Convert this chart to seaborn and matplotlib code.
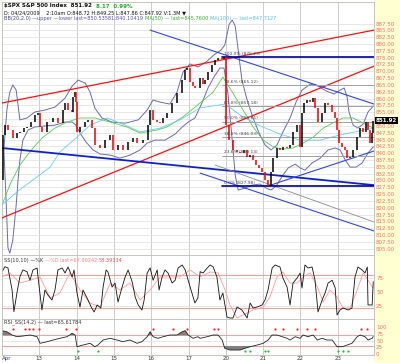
import matplotlib
matplotlib.use("Agg")
import numpy as np
import pandas as pd
import matplotlib.pyplot as plt
from matplotlib.patches import Rectangle
import matplotlib.transforms as mtransforms
import seaborn as sns

sns.set_theme(style="white")
plt.rcParams["font.family"] = ["DejaVu Sans"]

# =====================================================
# Data (x = trading day index, 0 = Apr 9)
# =====================================================

day_labels = ["Apr", "13", "14", "15", "16", "17", "20", "21", "22", "23"]

bar_day = [0.00, 0.03, 0.08, 0.16, 0.29, 0.40, 0.48, 0.59, 0.67, 0.78,
           0.88, 0.97, 1.02, 1.07, 1.21, 1.37, 1.50, 1.64, 1.69, 1.77,
           1.88, 1.90, 1.96, 1.98, 2.01, 2.09, 2.23, 2.31, 2.41, 2.49,
           2.63, 2.76, 2.90, 2.98, 3.11, 3.24, 3.38, 3.51, 3.62, 3.78,
           3.91, 3.97, 4.05, 4.16, 4.24, 4.32, 4.42, 4.56, 4.69, 4.83,
           4.91, 4.96, 5.04, 5.12, 5.17, 5.31, 5.39, 5.44, 5.52, 5.63,
           5.71, 5.79, 5.90, 5.95, 6.01, 6.09, 6.19, 6.30, 6.38, 6.49,
           6.57, 6.65, 6.73, 6.81, 6.89, 6.97, 7.05, 7.13, 7.21, 7.27,
           7.37, 7.45, 7.53, 7.64, 7.72, 7.80, 7.91, 7.99, 8.04, 8.10,
           8.18, 8.26, 8.34, 8.39, 8.47, 8.58, 8.66, 8.74, 8.85, 8.93,
           8.98, 9.03, 9.12, 9.20, 9.25, 9.33, 9.41, 9.52, 9.60, 9.68,
           9.76, 9.81, 9.87, 9.92, 9.95]
bar_close = [830.2, 846.7, 850.3, 848.5, 845.6, 847.4, 847.8, 849.2, 849.6, 851.4,
             854.0, 854.7, 849.6, 847.8, 851.4, 852.9, 851.1, 855.8, 858.4, 855.8,
             855.1, 860.6, 862.4, 858.8, 847.8, 849.6, 851.4, 852.2, 849.2, 843.0,
             841.9, 844.8, 846.7, 841.2, 843.0, 841.2, 844.1, 845.6, 843.7, 844.8,
             850.3, 855.8, 852.2, 851.4, 851.1, 852.9, 854.7, 858.4, 862.0, 866.8,
             870.5, 871.2, 866.1, 864.6, 863.9, 867.5, 865.3, 866.8, 869.7, 872.3,
             874.1, 874.9, 874.5, 875.2, 850.3, 844.8, 841.2, 840.4, 840.1, 841.2,
             838.6, 839.3, 837.5, 835.7, 834.6, 833.1, 830.2, 828.0, 833.1, 838.2,
             841.9, 841.2, 842.3, 841.9, 843.0, 847.8, 850.3, 842.3, 854.7, 858.4,
             859.5, 858.8, 860.2, 856.6, 851.4, 854.7, 858.4, 857.7, 855.1, 852.9,
             848.5, 843.7, 842.3, 841.2, 838.2, 838.6, 841.2, 846.1, 849.2, 847.8,
             851.4, 848.5, 843.7, 847.4, 851.92]

bb_up_day = [0.05, 0.13, 0.21, 0.29, 0.38, 0.43, 0.48, 0.67, 0.88, 1.15,
             1.42, 1.69, 1.88, 2.04, 2.23, 2.36, 2.49, 2.68, 2.95, 3.30,
             3.65, 3.89, 4.05, 4.24, 4.50, 4.69, 4.85, 5.04, 5.25, 5.47,
             5.68, 5.87, 5.97, 6.09, 6.17, 6.25, 6.33, 6.43, 6.57, 6.73,
             6.89, 7.05, 7.21, 7.37, 7.53, 7.72, 7.88, 8.04, 8.26, 8.47,
             8.69, 8.90, 9.06, 9.17, 9.25, 9.30, 9.41, 9.54, 9.68, 9.81, 9.95]
bb_up = [841.2, 855.8, 862.4, 865.0, 863.1, 857.6, 852.2, 852.9, 855.1, 855.8,
         856.9, 860.2, 864.6, 866.8, 865.7, 862.4, 856.5, 852.9, 851.4, 851.0,
         852.2, 855.8, 859.5, 858.7, 858.0, 862.4, 869.7, 872.7, 871.6, 873.4,
         876.0, 877.8, 879.6, 887.3, 888.8, 886.6, 877.8, 866.8, 859.5, 852.9,
         847.4, 843.0, 841.2, 843.0, 847.8, 852.9, 858.7, 863.1, 865.3, 864.6,
         862.8, 861.7, 863.1, 863.9, 860.6, 855.1, 850.3, 849.2, 850.7, 855.1, 857.3]

bb_lo_day = [0.05, 0.11, 0.16, 0.21, 0.29, 0.38, 0.43, 0.48, 0.56, 0.70,
             0.88, 1.15, 1.42, 1.69, 1.88, 1.98, 2.09, 2.25, 2.44, 2.63,
             2.90, 3.16, 3.43, 3.70, 3.89, 4.10, 4.37, 4.64, 4.83, 4.99,
             5.17, 5.36, 5.52, 5.68, 5.84, 5.95, 6.06, 6.17, 6.25, 6.33,
             6.51, 6.70, 6.92, 7.08, 7.21, 7.35, 7.51, 7.67, 7.86, 7.99,
             8.12, 8.31, 8.53, 8.74, 8.93, 9.06, 9.20, 9.33, 9.49, 9.65, 9.81, 9.95]
bb_lo = [841.2, 822.8, 805.3, 803.4, 808.2, 821.0, 830.2, 837.5, 844.8, 848.5,
         849.6, 850.0, 850.3, 851.4, 851.4, 850.3, 847.4, 844.1, 841.2, 839.7,
         839.3, 838.2, 839.3, 841.2, 843.7, 844.8, 844.8, 847.0, 849.6, 851.4,
         852.9, 858.4, 863.9, 867.9, 871.2, 871.2, 861.3, 844.8, 832.0, 826.5,
         827.2, 828.3, 828.7, 827.2, 826.5, 828.0, 831.6, 834.6, 836.0, 834.6,
         833.8, 836.4, 838.2, 841.2, 841.9, 841.2, 837.5, 834.9, 834.9, 836.4, 840.1, 842.3]

ma50_day = [0.00, 0.21, 0.48, 0.83, 1.10, 1.42, 1.74, 2.09, 2.49, 2.90,
            3.35, 3.70, 4.16, 4.42, 4.85, 5.31, 5.66, 5.92, 6.19, 6.46,
            6.73, 7.00, 7.27, 7.53, 7.80, 8.07, 8.34, 8.61, 8.87, 9.14,
            9.41, 9.73, 9.95]
ma50 = [821.0, 828.4, 835.7, 841.9, 845.9, 849.2, 851.4, 852.9, 852.9, 851.4,
        849.6, 847.4, 848.5, 849.6, 853.3, 858.4, 862.4, 867.9, 862.0, 855.8,
        849.6, 844.8, 842.3, 841.5, 841.9, 843.7, 845.9, 849.2, 851.1, 852.9,
        852.9, 850.7, 849.2]

ma100_day = [0.00, 0.40, 0.83, 1.29, 1.55, 2.01, 2.36, 2.82, 3.30, 3.70,
             4.24, 4.77, 5.31, 5.98, 6.38, 6.92, 7.45, 7.99, 8.53, 9.06, 9.95]
ma100 = [821.0, 825.8, 830.2, 834.9, 840.4, 845.9, 850.3, 852.9, 850.3, 847.8,
         849.2, 852.2, 856.6, 858.0, 854.0, 850.0, 847.0, 844.8, 844.8, 846.7, 849.2]

# user trend lines: (day0, price0, day1, price1)
red_lines = [(0.00, 858.4, 9.97, 885.1), (0.00, 816.3, 9.97, 871.9)]
blue_thick = [(0.00, 841.9, 9.97, 828.3)]
blue_thin = [(3.97, 885.1, 9.97, 858.0), (7.13, 828.0, 9.97, 840.8),
             (5.31, 832.7, 9.97, 811.5)]
gray_lines = [(5.71, 835.7, 9.97, 814.8)]

fib_start = 5.90
fib_high = 875.23
fib_low = 827.98
fib_levels = [0.0, 0.236, 0.382, 0.5, 0.618, 0.786, 1.0]

# slow stochastic
k_day = [0.00, 0.08, 0.16, 0.27, 0.32, 0.40, 0.48, 0.56, 0.67, 0.75, 0.83, 0.94, 0.99,
         1.07, 1.15, 1.23, 1.34, 1.42, 1.50, 1.61, 1.69, 1.77, 1.88, 1.93, 2.01, 2.09,
         2.17, 2.28, 2.39, 2.47, 2.55, 2.65, 2.71, 2.79, 2.84, 2.95, 3.03, 3.11, 3.22,
         3.30, 3.38, 3.49, 3.57, 3.65, 3.75, 3.81, 3.89, 3.97, 4.05, 4.16, 4.21, 4.29,
         4.37, 4.45, 4.56, 4.64, 4.72, 4.83, 4.91, 4.99, 5.09, 5.17, 5.25, 5.31, 5.39,
         5.50, 5.58, 5.66, 5.76, 5.84, 5.92, 6.03, 6.11, 6.19, 6.30, 6.43, 6.57, 6.65,
         6.73, 6.84, 6.97, 7.05, 7.13, 7.24, 7.32, 7.45, 7.53, 7.64, 7.72, 7.80, 7.91,
         7.99, 8.04, 8.12, 8.20, 8.31, 8.39, 8.47, 8.58, 8.66, 8.74, 8.85, 8.93, 8.98,
         9.06, 9.14, 9.28, 9.38, 9.46, 9.54, 9.65, 9.73, 9.79, 9.81, 9.92, 9.95]
k_val = [85.7, 94.6, 92.3, 53.0, 14.3, 47.7, 76.8, 88.8, 85.7, 70.4, 88.8, 92.3, 62.0,
         17.3, 53.0, 44.1, 35.2, 53.0, 88.8, 92.3, 83.4, 94.1, 76.3, 88.8, 47.7, 22.7,
         53.0, 38.8, 22.7, 13.8, 26.3, 20.9, 58.4, 88.8, 85.2, 58.4, 65.5, 31.6, 58.4,
         76.3, 88.8, 67.3, 40.5, 26.3, 17.3, 35.2, 83.4, 92.3, 70.4, 88.8, 53.0, 76.3,
         88.8, 83.4, 65.5, 70.4, 92.3, 97.7, 88.8, 70.4, 47.7, 29.8, 38.8, 85.7, 83.4,
         92.3, 97.7, 94.1, 76.3, 35.2, 47.7, 4.8, 3.0, 3.0, 22.7, 17.3, 3.0, 29.8,
         20.9, 22.7, 26.3, 35.2, 53.0, 92.3, 97.7, 94.1, 74.5, 58.4, 26.3, 65.5, 74.5,
         83.4, 56.6, 97.7, 92.3, 94.1, 70.4, 13.8, 35.2, 47.7, 65.5, 70.4, 56.6, 8.4,
         17.3, 20.9, 17.3, 20.9, 76.3, 94.1, 88.8, 83.4, 94.1, 26.3, 26.3, 67.99]

d_day = [0.00, 0.21, 0.48, 0.75, 1.02, 1.29, 1.55, 1.82, 2.09, 2.36, 2.63, 2.90,
         3.16, 3.43, 3.70, 3.97, 4.24, 4.50, 4.77, 5.04, 5.31, 5.58, 5.79, 5.98,
         6.11, 6.30, 6.46, 6.73, 7.00, 7.18, 7.37, 7.53, 7.72, 7.91, 8.07, 8.26,
         8.45, 8.61, 8.79, 8.98, 9.14, 9.33, 9.52, 9.68, 9.81, 9.95]
d_val = [76.3, 83.4, 65.5, 70.4, 76.3, 38.8, 47.7, 83.4, 53.0, 29.8, 22.7, 65.5,
         53.0, 65.5, 35.2, 53.0, 76.3, 76.3, 76.3, 88.8, 76.3, 85.2, 83.4, 53.0,
         26.3, 3.0, 8.4, 17.3, 22.7, 40.5, 76.3, 85.2, 65.5, 65.5, 76.3, 83.4,
         58.4, 31.6, 53.0, 40.5, 20.9, 20.9, 53.0, 83.4, 70.4, 56.39]

# RSI
rsi_day = [0.00, 0.13, 0.27, 0.40, 0.56, 0.75, 0.94, 1.02, 1.21, 1.37, 1.55, 1.74,
           1.88, 1.96, 2.01, 2.17, 2.36, 2.49, 2.57, 2.71, 2.90, 3.08, 3.24, 3.43,
           3.62, 3.75, 3.89, 3.97, 4.05, 4.18, 4.32, 4.50, 4.69, 4.83, 4.91, 4.99,
           5.12, 5.25, 5.31, 5.50, 5.66, 5.79, 5.90, 5.97, 6.11, 6.38, 6.51, 6.65,
           6.84, 7.00, 7.13, 7.24, 7.37, 7.51, 7.64, 7.72, 7.86, 7.99, 8.07, 8.20,
           8.34, 8.45, 8.58, 8.71, 8.85, 8.98, 9.12, 9.25, 9.38, 9.52, 9.60, 9.73,
           9.81, 9.92, 9.95]
rsi_val = [87.3, 83.5, 71.2, 64.8, 67.4, 71.2, 64.8, 40.1, 46.1, 52.4, 58.8, 64.8,
           77.5, 71.2, 27.3, 33.7, 40.1, 27.3, 33.7, 52.4, 58.8, 52.4, 46.1, 52.4,
           40.1, 46.1, 64.8, 83.5, 64.8, 58.8, 64.8, 71.2, 71.2, 83.5, 87.5, 71.2,
           58.8, 64.8, 58.8, 64.8, 71.2, 71.2, 52.4, 21.3, 15.0, 15.0, 21.3, 27.3,
           33.7, 40.1, 52.4, 71.2, 71.2, 64.8, 58.8, 52.4, 64.8, 58.8, 71.2, 64.8,
           71.2, 52.4, 58.8, 52.4, 52.4, 27.3, 27.3, 33.7, 40.1, 64.8, 71.2, 64.8,
           52.4, 58.8, 65.6]

rsi_sell_day = [0.29, 0.62, 0.72, 0.83, 0.99, 1.72, 1.98, 4.05, 4.58, 4.96,
                5.68, 5.79, 7.32, 7.53, 7.91, 8.18, 8.39, 9.62, 9.79]
rsi_buy_day = [2.04, 2.57, 6.51, 6.65, 7.05, 7.13, 9.01, 9.14, 9.28]

# =====================================================
# Figure layout (pixel based, 400 x 363)
# =====================================================

W, H = 400.0, 363.0
X0, X1 = 2.0, 374.0

fig = plt.figure(figsize=(4.0, 3.63), dpi=100)
fig.patch.set_facecolor("white")
fig.patches.append(Rectangle((X1 / W, 0), 1 - X1 / W, 1, transform=fig.transFigure,
                             facecolor="#FFFFD2", edgecolor="none", zorder=-5))


def panel(top, bottom):
    return fig.add_axes([X0 / W, 1 - bottom / H, (X1 - X0) / W, (bottom - top) / H])


ax_p = panel(2, 255)
ax_s = panel(255, 319)
ax_r = panel(319, 355)

XMAX = 9.97
tick_col = "#FF7070"
grid_col = "#DEDEDE"
vgrid_col = "#C4C4C4"

for ax in (ax_p, ax_s, ax_r):
    ax.set_facecolor("white")
    ax.set_xlim(0, XMAX)
    ax.yaxis.tick_right()
    ax.tick_params(axis="y", length=0, pad=1.5, labelsize=4, labelcolor=tick_col)
    ax.tick_params(axis="x", length=0)
    for s in ax.spines.values():
        s.set_color("#BDBDAE")
        s.set_linewidth(0.6)
    for d in range(1, len(day_labels)):
        ax.axvline(d, color=vgrid_col, lw=0.6, zorder=0)

# =====================================================
# Price panel
# =====================================================

ax_p.set_ylim(802.7, 895.4)
price_ticks = np.arange(805.0, 887.6, 2.5)
ax_p.set_yticks(price_ticks)
ax_p.set_yticklabels([f"{v:.2f}" for v in price_ticks])
for v in price_ticks:
    ax_p.axhline(v, color=grid_col, lw=0.5, zorder=0)
ax_p.set_xticks([])

bb_col = "#6B6BAE"
sns.lineplot(x=bb_up_day, y=bb_up, ax=ax_p, color=bb_col, lw=0.7, estimator=None, sort=False)
sns.lineplot(x=bb_lo_day, y=bb_lo, ax=ax_p, color=bb_col, lw=0.7, estimator=None, sort=False)
sns.lineplot(x=ma50_day, y=ma50, ax=ax_p, color="#55CC55", lw=0.6, estimator=None, sort=False)
sns.lineplot(x=ma100_day, y=ma100, ax=ax_p, color="#66CCEE", lw=0.6, estimator=None, sort=False)

for x0, y0, x1, y1 in red_lines:
    ax_p.plot([x0, x1], [y0, y1], color="#FF1010", lw=0.9, zorder=3)
for x0, y0, x1, y1 in blue_thick:
    ax_p.plot([x0, x1], [y0, y1], color="#1020D0", lw=1.3, zorder=3)
for x0, y0, x1, y1 in blue_thin:
    ax_p.plot([x0, x1], [y0, y1], color="#3344EE", lw=0.8, zorder=3)
for x0, y0, x1, y1 in gray_lines:
    ax_p.plot([x0, x1], [y0, y1], color="#8A8A8A", lw=0.6, zorder=3)

fib_rng = fib_high - fib_low
for lvl in fib_levels:
    p = fib_low + lvl * fib_rng
    if lvl in (0.0, 1.0):
        ax_p.plot([fib_start, XMAX], [p, p], color="#000090", lw=1.2, zorder=3)
    else:
        ax_p.plot([fib_start, XMAX], [p, p], color="#A0A0A0", lw=0.7, zorder=3)
    ax_p.text(fib_start + 0.05, p + 0.4, f"{lvl * 100:.1f}% ({p:.2f})", fontsize=3.2,
              color="#444444", va="bottom", ha="left", zorder=6)

# candles: body from previous close to close
df = pd.DataFrame({"day": bar_day, "close": bar_close})
df["open"] = df["close"].shift(1)
df = df.dropna()
up = df["close"] >= df["open"]
ax_p.vlines(df["day"], df[["open", "close"]].min(axis=1), df[["open", "close"]].max(axis=1),
            colors=np.where(up, "#000000", "#EE0000"), lw=1.1, zorder=5)

# last price box
trans = mtransforms.blended_transform_factory(ax_p.transAxes, ax_p.transData)
ax_p.text(1.004, bar_close[-1], f"{bar_close[-1]:.2f}", transform=trans, fontsize=4,
          color="white", weight="bold", va="center", ha="left", zorder=10, clip_on=False,
          bbox=dict(boxstyle="square,pad=0.15", facecolor="black", edgecolor="none"))

# =====================================================
# Slow stochastic panel
# =====================================================

ax_s.set_ylim(1.25, 115.5)
ax_s.set_yticks([25, 50, 75])
ax_s.set_yticklabels(["25", "50", "75"])
ax_s.set_xticks([])
for v in (25, 50, 75):
    ax_s.axhline(v, color=grid_col, lw=0.5, zorder=0)
for v in (20, 80):
    ax_s.axhline(v, color="#FF9A9A", lw=0.7, zorder=1)
sns.lineplot(x=d_day, y=d_val, ax=ax_s, color="#FF9C9C", lw=0.6, estimator=None, sort=False)
sns.lineplot(x=k_day, y=k_val, ax=ax_s, color="#111111", lw=0.6, estimator=None, sort=False)

# =====================================================
# RSI panel
# =====================================================

ax_r.set_ylim(-3.7, 131.1)
ax_r.set_yticks([0, 25, 50, 75, 100])
ax_r.set_yticklabels(["0", "25", "50", "75", "100"])
for v in (50,):
    ax_r.axhline(v, color=grid_col, lw=0.5, zorder=0)
for v in (30, 70):
    ax_r.axhline(v, color="#FF9A9A", lw=0.7, zorder=1)
rd = np.array(rsi_day)
rv = np.array(rsi_val)
ax_r.fill_between(rd, rv, 70, where=rv > 70, interpolate=True, color="#808080", lw=0, zorder=2)
ax_r.fill_between(rd, rv, 30, where=rv < 30, interpolate=True, color="#808080", lw=0, zorder=2)
sns.lineplot(x=rsi_day, y=rsi_val, ax=ax_r, color="#222222", lw=0.6, estimator=None, sort=False)
ax_r.scatter(rsi_sell_day, [93] * len(rsi_sell_day), s=2.5, color="#FF2020", lw=0, zorder=4)
ax_r.scatter(rsi_buy_day, [12] * len(rsi_buy_day), s=2.5, color="#20C020", lw=0, zorder=4)

ax_r.set_xticks(range(len(day_labels)))
ax_r.set_xticklabels(day_labels, fontsize=4, color="#333333")
ax_r.tick_params(axis="x", pad=0.8)
first = ax_r.get_xticklabels()[0]
first.set_color("#2233CC")
first.set_ha("left")

for ax in (ax_p, ax_s, ax_r):
    ax.set_xlabel("")
    ax.set_ylabel("")

# =====================================================
# Header texts
# =====================================================

renderer = fig.canvas.get_renderer()


def parts_text(px, py, parts, size=4.0, weight="normal"):
    x = px / W
    for s, c in parts:
        t = fig.text(x, 1 - py / H, s, color=c, fontsize=size, weight=weight,
                     va="center", ha="left", zorder=20)
        x += t.get_window_extent(renderer=renderer).width / fig.bbox.width


parts_text(4, 6, [("$SPX S&P 500 Index  851.92  ", "#111111"),
                  ("8.17  0.99%", "#22AA22")], size=4.0, weight="bold")
parts_text(4, 12.5, [("D: 04/24/2009    2:10am O:848.72 H:849.25 L:847.86 C:847.92 V:1.3M \u25bc",
                      "#111111")], size=3.6)
parts_text(4, 18.5, [("BB(20,2.0) ", "#444488"),
                     ("\u2014upper \u2014lower last=850.53581;840.10419 ", "#5555AA"),
                     ("MA(50) \u2014 last=845.7600 ", "#33AA33"),
                     ("MA(100) \u2014 last=847.7127", "#55BBEE")], size=3.6)
parts_text(4, 260.5, [("SS(10,10) \u2014%K ", "#333333"),
                      ("\u2014%D last=67.99242;", "#FF8080"),
                      ("58.39334", "#FF5050")], size=3.6)
parts_text(4, 322, [("RSI_SS(14,2) \u2014 last=65.61784", "#333333")], size=3.6)

fig.savefig("out.png", dpi=100, facecolor=fig.get_facecolor())
